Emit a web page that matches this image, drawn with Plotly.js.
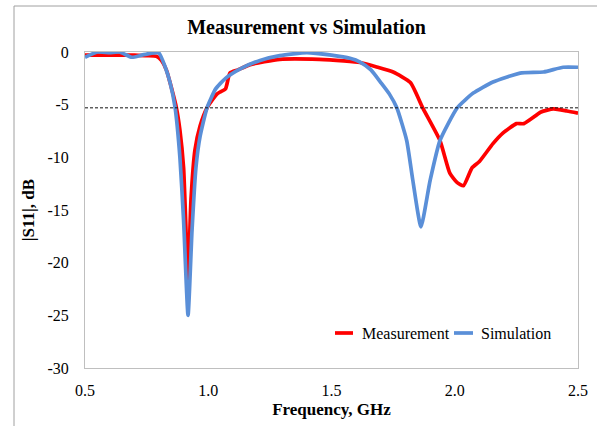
<!DOCTYPE html>
<html>
<head>
<meta charset="utf-8">
<script src="https://cdn.plot.ly/plotly-3.0.1.min.js"></script>
<style>html,body{margin:0;padding:0;background:#fff;}#chart{width:597px;height:426px;}</style>
</head>
<body>
<div id="chart"></div>
<script>
const measFreq = [0.5,0.6,0.7,0.75,0.79,0.81,0.83,0.853,0.87,0.885,0.90,0.918,0.93,0.946,0.967,0.995,1.015,1.035,1.048,1.07,1.088,1.12,1.17,1.29,1.45,1.55,1.616,1.68,1.75,1.82,1.87,1.94,1.98,2.01,2.035,2.07,2.10,2.155,2.195,2.25,2.28,2.35,2.40,2.455,2.5];
const measS11 = [-0.3,-0.3,-0.3,-0.35,-0.4,-0.8,-1.7,-3.6,-5.2,-7.4,-11,-21.5,-14,-9.3,-7,-5.3,-4.6,-4.0,-3.8,-3.5,-2.0,-1.7,-1.2,-0.7,-0.7,-0.85,-1.0,-1.4,-1.9,-2.9,-5.3,-8.4,-11.5,-12.4,-12.7,-11.0,-10.4,-8.7,-7.7,-6.8,-6.8,-5.7,-5.4,-5.6,-5.8];
const simFreq = [0.50,0.55,0.60,0.64,0.69,0.73,0.77,0.80,0.825,0.845,0.865,0.885,0.90,0.918,0.934,0.95,0.967,0.995,1.03,1.07,1.13,1.21,1.29,1.40,1.50,1.575,1.616,1.66,1.70,1.735,1.765,1.805,1.83,1.863,1.90,1.94,2.01,2.075,2.155,2.265,2.36,2.44,2.5];
const simS11 = [-0.5,0,-0.05,0,-0.5,-0.3,-0.1,-0.1,-1.4,-2.9,-5.2,-10,-16,-25,-17,-11,-8,-5.3,-3.5,-2.5,-1.6,-0.8,-0.35,-0.05,-0.3,-0.6,-0.95,-1.7,-2.9,-4.0,-5.3,-8.4,-12.2,-16.6,-12.2,-8.4,-5.3,-3.9,-2.85,-2.0,-1.9,-1.45,-1.45];
const seriesNames = ['Measurement', 'Simulation'];
const seriesColors = ['#ff0000', '#5a8fd8'];
const refLevel = -5.3;
const xTicks = [0.5,1.0,1.5,2.0,2.5];
const yTicks = [0,-5,-10,-15,-20,-25,-30];

const serif = "Liberation Serif, Times New Roman, serif";
const W = 597, H = 426, L = 85, R = 578, T = 52, B = 368;
const px = v => (v - L) / (R - L);
const py = v => 1 - (v - T) / (B - T);

const traces = [
  {x: measFreq, y: measS11, type: 'scatter', mode: 'lines', name: seriesNames[0],
   line: {color: seriesColors[0], width: 3.7, shape: 'spline', smoothing: 0.5}},
  {x: simFreq, y: simS11, type: 'scatter', mode: 'lines', name: seriesNames[1],
   line: {color: seriesColors[1], width: 3.7, shape: 'spline', smoothing: 0.5}}
];

// custom legend (Excel-style short line symbols)
const legendY = py(333);
const legendItems = [
  {x0: 335, x1: 353, tx: 360},
  {x0: 454, x1: 473, tx: 479}
];
const legendShapes = legendItems.map((it, i) => ({
  type: 'line', xref: 'paper', yref: 'paper', x0: px(it.x0), x1: px(it.x1), y0: legendY, y1: legendY,
  line: {color: seriesColors[i], width: 3.7}
}));
const legendAnnots = legendItems.map((it, i) => ({
  xref: 'paper', yref: 'paper', x: px(it.tx), y: legendY, xanchor: 'left', yanchor: 'middle',
  text: seriesNames[i], showarrow: false, font: {family: serif, size: 16, color: '#000'}
}));

const layout = {
  width: W, height: H,
  margin: {l: L, r: W - R, t: T, b: H - B},
  paper_bgcolor: '#fff', plot_bgcolor: '#fff',
  font: {family: serif, color: '#000', size: 16},
  title: {text: '<b>Measurement vs Simulation</b>', font: {family: serif, size: 20, color: '#000'},
          xref: 'container', yref: 'container', x: 306.5 / W, xanchor: 'center', y: 1 - 27 / H, yanchor: 'middle'},
  xaxis: {range: [0.5, 2.5], tickvals: xTicks, ticktext: xTicks.map(v => v.toFixed(1)),
          showline: true, mirror: true, linecolor: '#bfbfbf', linewidth: 1, showgrid: false, zeroline: false,
          ticks: '', ticklabelstandoff: 8, tickfont: {family: serif, size: 16},
          title: {text: '<b>Frequency, GHz</b>', font: {family: serif, size: 17}, standoff: 4}},
  yaxis: {range: [-30, 0], tickvals: yTicks, ticktext: yTicks.map(String),
          showline: true, mirror: true, linecolor: '#bfbfbf', linewidth: 1, showgrid: false, zeroline: false,
          ticks: '', ticklabelstandoff: 12, tickfont: {family: serif, size: 16},
          title: {text: '<b>|S11|, dB</b>', font: {family: serif, size: 17}, standoff: 8}},
  showlegend: false,
  annotations: legendAnnots,
  shapes: [
    {type: 'line', xref: 'x', yref: 'y', x0: 0.5, x1: 2.5, y0: refLevel, y1: refLevel,
     line: {color: '#111', width: 1, dash: '3px,2px'}},
    {type: 'rect', xref: 'paper', yref: 'paper', x0: px(14), x1: 1.5, y0: -0.6, y1: py(6),
     line: {color: '#a0a0a0', width: 1}, fillcolor: 'rgba(0,0,0,0)', layer: 'below'}
  ].concat(legendShapes)
};
Plotly.newPlot('chart', traces, layout, {displayModeBar: false, staticPlot: true});
</script>
</body>
</html>
